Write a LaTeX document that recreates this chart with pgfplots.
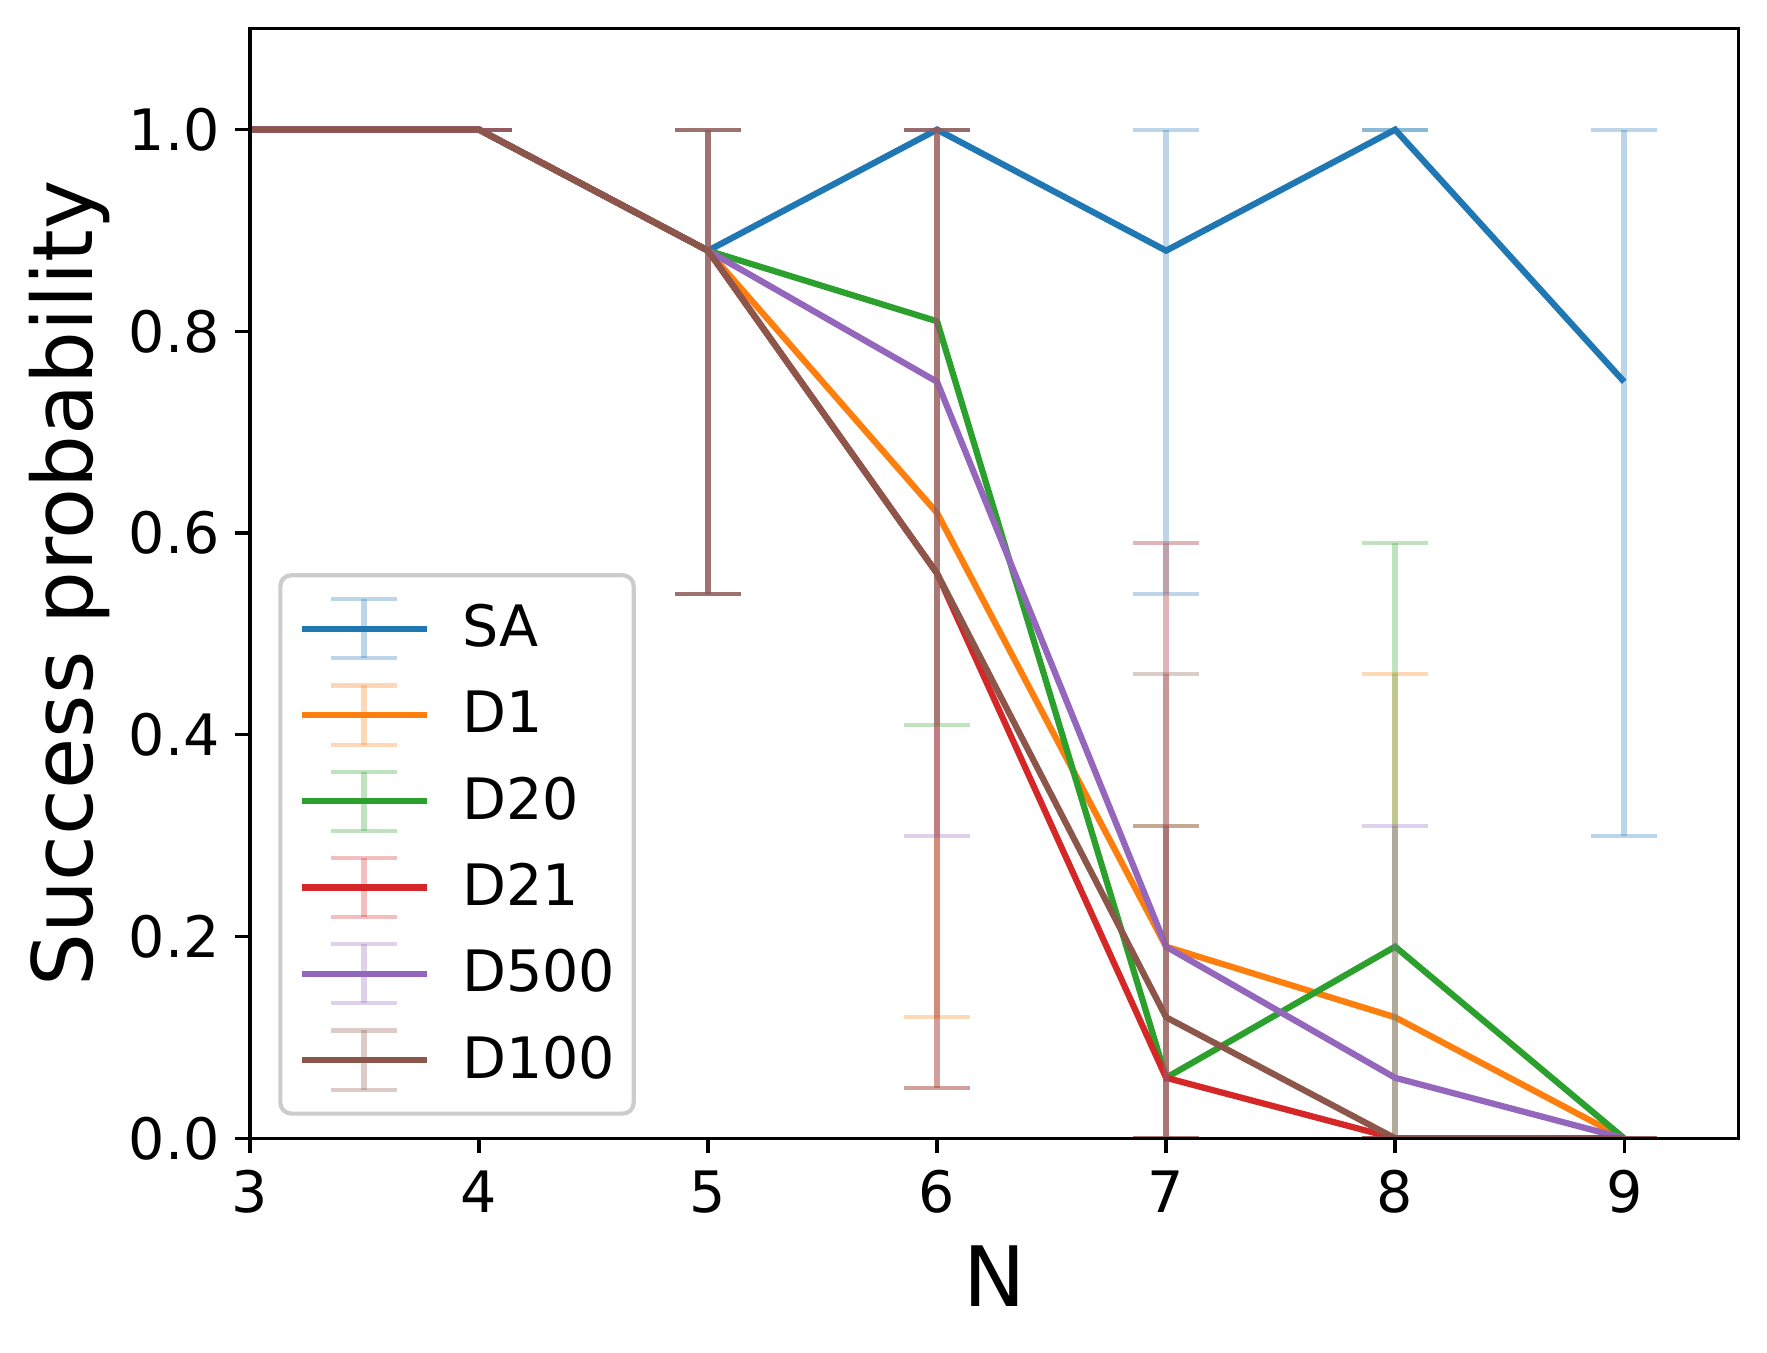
\documentclass[border=0pt]{standalone}
\usepackage{fontspec}
\setmainfont{DejaVu Sans}
\usepackage{pgfplots}
\pgfplotsset{compat=1.18}
\definecolor{c0}{HTML}{1F77B4}
\definecolor{c1}{HTML}{FF7F0E}
\definecolor{c2}{HTML}{2CA02C}
\definecolor{c3}{HTML}{D62728}
\definecolor{c4}{HTML}{9467BD}
\definecolor{c5}{HTML}{8C564B}
\definecolor{legframe}{gray}{0.8}
\pgfplotsset{
  errsty/.style={
    color=#1, line width=1.5pt, mark=none, solid,
    error bars/.cd, y dir=both, y explicit,
    error bar style={color=#1, opacity=0.3, line width=1.5pt, solid},
    error mark options={rotate=90, mark size=7.9pt, line width=1pt, opacity=0.3, color=#1, solid},
    /pgfplots/legend image code/.code={
      \draw[opacity=0.3, line width=1.5pt] (15pt,-7.1pt) -- (15pt,7.1pt);
      \draw[opacity=0.3, line width=1pt] (7.1pt,-7.1pt) -- (22.9pt,-7.1pt) (7.1pt,7.1pt) -- (22.9pt,7.1pt);
      \draw[line width=1.5pt] (0pt,0pt) -- (30pt,0pt);
    },
  },
}
\begin{document}
\begin{tikzpicture}
\begin{axis}[
  scale only axis,
  width=357.3pt, height=266.3pt,
  xmin=3, xmax=9.5, ymin=0, ymax=1.1,
  xtick={3,4,5,6,7,8,9},
  ytick={0,0.2,0.4,0.6,0.8,1.0},
  yticklabel style={/pgf/number format/fixed, /pgf/number format/fixed zerofill, /pgf/number format/precision=1},
  /pgf/number format/assume math mode=true,
  tick align=outside,
  xtick pos=bottom, ytick pos=left,
  major tick length=3.5pt,
  every tick/.style={line width=0.8pt, black},
  axis line style={line width=0.8pt},
  axis on top,
  ticklabel style={font=\fontsize{13.7}{16}\selectfont},
  xticklabel style={anchor=base, inner sep=0pt, yshift=-14.3pt},
  yticklabel style={anchor=east, inner sep=0pt, xshift=-3.6pt},
  xlabel={N},
  ylabel={Success probability},
  label style={font=\fontsize{20}{24}\selectfont},
  xlabel style={at={(rel axis cs:0.5,-0.1517)}, anchor=base, inner sep=0pt},
  ylabel style={at={(rel axis cs:-0.1061,0.5)}, anchor=base, inner sep=0pt},
  legend cell align=left,
  legend style={
    at={(0.019,0.0204)}, anchor=south west,
    font=\fontsize{13.7}{16}\selectfont,
    draw=legframe, line width=1pt, rounded corners=2.6pt,
    fill=white, fill opacity=0.8, text opacity=1,
    inner xsep=4.4pt, inner ysep=5pt,
    row sep=5pt, column sep=7.8pt,
    nodes={inner sep=0pt},
    column 2/.style={nodes={inner xsep=1.4pt}},
  },
]
\addplot[errsty=c0] coordinates {
 (3,1) += (0,0) -= (0,0)
 (4,1) += (0,0) -= (0,0)
 (5,0.88) += (0,0.12) -= (0,0.34)
 (6,1) += (0,0) -= (0,0)
 (7,0.88) += (0,0.12) -= (0,0.34)
 (8,1) += (0,0) -= (0,0)
 (9,0.75) += (0,0.25) -= (0,0.45)
};
\addlegendentry{SA}
\addplot[errsty=c1] coordinates {
 (3,1) += (0,0) -= (0,0)
 (4,1) += (0,0) -= (0,0)
 (5,0.88) += (0,0.12) -= (0,0.34)
 (6,0.62) += (0,0.38) -= (0,0.50)
 (7,0.19) += (0,0.40) -= (0,0.19)
 (8,0.12) += (0,0.34) -= (0,0.12)
 (9,0) += (0,0) -= (0,0)
};
\addlegendentry{D1}
\addplot[errsty=c2] coordinates {
 (3,1) += (0,0) -= (0,0)
 (4,1) += (0,0) -= (0,0)
 (5,0.88) += (0,0.12) -= (0,0.34)
 (6,0.81) += (0,0.19) -= (0,0.40)
 (7,0.06) += (0,0.25) -= (0,0.06)
 (8,0.19) += (0,0.40) -= (0,0.19)
 (9,0) += (0,0) -= (0,0)
};
\addlegendentry{D20}
\addplot[errsty=c3] coordinates {
 (3,1) += (0,0) -= (0,0)
 (4,1) += (0,0) -= (0,0)
 (5,0.88) += (0,0.12) -= (0,0.34)
 (6,0.56) += (0,0.44) -= (0,0.51)
 (7,0.06) += (0,0.25) -= (0,0.06)
 (8,0) += (0,0) -= (0,0)
 (9,0) += (0,0) -= (0,0)
};
\addlegendentry{D21}
\addplot[errsty=c4] coordinates {
 (3,1) += (0,0) -= (0,0)
 (4,1) += (0,0) -= (0,0)
 (5,0.88) += (0,0.12) -= (0,0.34)
 (6,0.75) += (0,0.25) -= (0,0.45)
 (7,0.19) += (0,0.40) -= (0,0.19)
 (8,0.06) += (0,0.25) -= (0,0.06)
 (9,0) += (0,0) -= (0,0)
};
\addlegendentry{D500}
\addplot[errsty=c5] coordinates {
 (3,1) += (0,0) -= (0,0)
 (4,1) += (0,0) -= (0,0)
 (5,0.88) += (0,0.12) -= (0,0.34)
 (6,0.56) += (0,0.44) -= (0,0.51)
 (7,0.12) += (0,0.34) -= (0,0.12)
 (8,0) += (0,0) -= (0,0)
 (9,0) += (0,0) -= (0,0)
};
\addlegendentry{D100}
\end{axis}
\pgfresetboundingbox
\useasboundingbox ([xshift=-60pt,yshift=-51.3pt]current axis.south west) rectangle ([xshift=6.8pt,yshift=6.9pt]current axis.north east);
\end{tikzpicture}
\end{document}
